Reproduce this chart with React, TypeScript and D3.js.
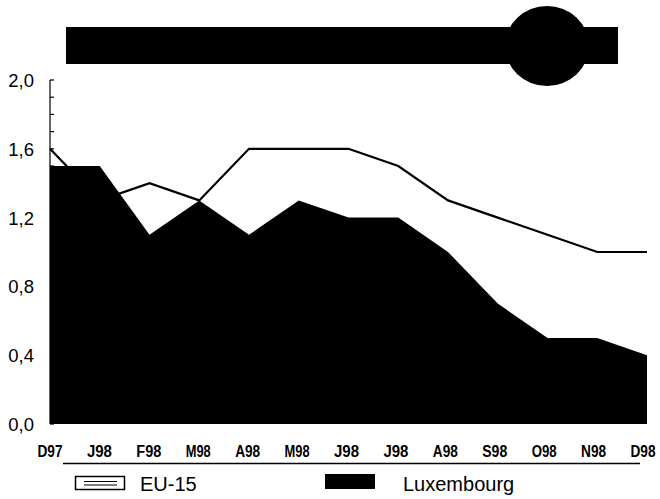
import React from "react";
import * as d3 from "d3";

const months = ["D97", "J98", "F98", "M98", "A98", "M98", "J98", "J98", "A98", "S98", "O98", "N98", "D98"];
const eu15 = [1.6, 1.3, 1.4, 1.3, 1.6, 1.6, 1.6, 1.5, 1.3, 1.2, 1.1, 1.0, 1.0];
const luxembourg = [1.5, 1.5, 1.1, 1.3, 1.1, 1.3, 1.2, 1.2, 1.0, 0.7, 0.5, 0.5, 0.4];
const yTicks = [0, 0.4, 0.8, 1.2, 1.6, 2.0];
const yMinorTicks = d3.range(0, 21).map((i) => i / 10);

const W = 660;
const H = 499;
const left = 50;
const right = 647;
const top = 80;
const bottom = 424;

export default function App() {
  const idx = months.map((_, i) => i);
  const x = d3.scalePoint<number>().domain(idx).range([left, right]);
  const xLabel = d3.scalePoint<number>().domain(idx).range([left, right - 4]);
  const y = d3.scaleLinear().domain([0, 2]).range([bottom, top]);

  const area = d3
    .area<number>()
    .x((_, i) => x(i) as number)
    .y0(y(0))
    .y1((d) => y(d));
  const line = d3
    .line<number>()
    .x((_, i) => x(i) as number)
    .y((d) => y(d));

  const fmt = (v: number) => v.toFixed(1).replace(".", ",");

  return (
    <svg
      width={W}
      height={H}
      viewBox={`0 0 ${W} ${H}`}
      style={{ position: "absolute", left: 0, top: 0, background: "#fff" }}
      fontFamily="'Liberation Sans', Arial, sans-serif"
    >
      {/* title banner */}
      <rect x={66} y={27} width={552} height={37} fill="#000" />
      <ellipse cx={547} cy={46} rx={42} ry={40} fill="#000" />

      {/* area & line */}
      <path d={area(luxembourg) || ""} fill="#000" />
      <path d={line(eu15) || ""} fill="none" stroke="#000" strokeWidth={2.2} />

      {/* y axis */}
      <line x1={left} x2={left} y1={top} y2={bottom} stroke="#000" strokeWidth={1.2} />
      {yMinorTicks.map((t) => (
        <line key={t} x1={left} x2={left + 4} y1={y(t)} y2={y(t)} stroke="#000" strokeWidth={1.2} />
      ))}
      {yTicks.map((t) => (
        <text key={t} x={34} y={y(t) + 7} textAnchor="end" fontSize={18.5} fill="#000">
          {fmt(t)}
        </text>
      ))}

      {/* x labels */}
      {months.map((m, i) => (
        <text
          key={i}
          x={xLabel(i) as number}
          y={457}
          textAnchor="middle"
          fontSize={16}
          fontWeight="bold"
          textLength={25}
          lengthAdjust="spacingAndGlyphs"
          fill="#000"
        >
          {m}
        </text>
      ))}

      {/* separator */}
      <line x1={63} x2={640} y1={463.5} y2={463.5} stroke="#000" strokeWidth={1.3} />

      {/* legend */}
      <rect x={75.5} y={476.5} width={49} height={13} fill="none" stroke="#000" strokeWidth={1.5} />
      <line x1={84} x2={117} y1={481.5} y2={481.5} stroke="#000" strokeWidth={1.2} />
      <line x1={84} x2={117} y1={485} y2={485} stroke="#000" strokeWidth={1.2} />
      <text x={140} y={491} fontSize={20} fill="#000">EU-15</text>

      <rect x={325} y={474} width={50} height={15} fill="#000" />
      <text x={403} y={491} fontSize={20} fill="#000">Luxembourg</text>
    </svg>
  );
}
